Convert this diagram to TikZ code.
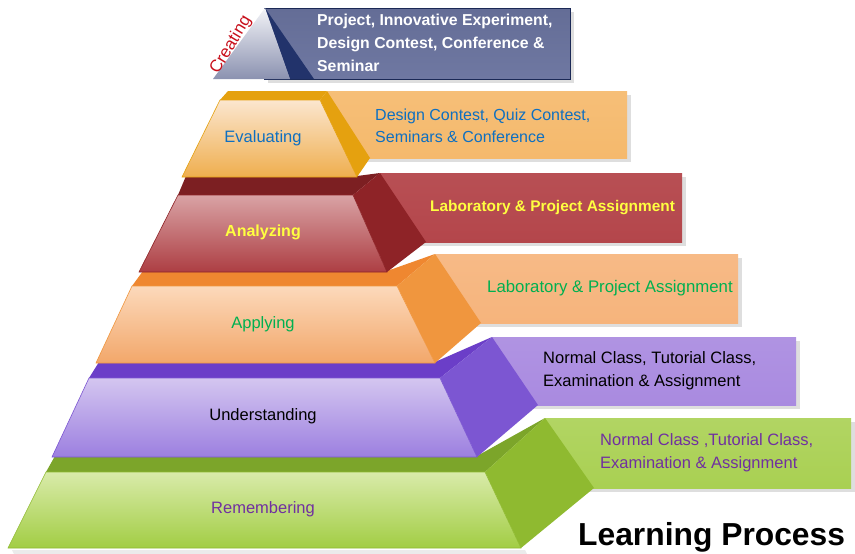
\documentclass[tikz,border=0pt]{standalone}
\usepackage{fontspec}
\setmainfont{Liberation Sans}
\tikzset{
  shadowbox/.style={fill=black, opacity=0.13},
  boxtxt/.style={anchor=west, align=left, inner sep=0pt},
  lvltxt/.style={inner sep=0pt, font=\fontsize{16.5}{20}\selectfont},
}
\definecolor{crbox}{HTML}{646D96}
\definecolor{crboxb}{HTML}{6F78A2}
\definecolor{crside}{HTML}{22336B}
\definecolor{evbox}{HTML}{F5B96C}
\definecolor{evside}{HTML}{E5A10F}
\definecolor{evtop}{HTML}{FBE6CF}
\definecolor{evbot}{HTML}{EFAE4E}
\definecolor{evtxt}{HTML}{0E6FC1}
\definecolor{anbox}{HTML}{B4464B}
\definecolor{anstrip}{HTML}{7C1F22}
\definecolor{anside}{HTML}{8E2327}
\definecolor{antop}{HTML}{D9A3A5}
\definecolor{anbot}{HTML}{AD3E43}
\definecolor{antxt}{HTML}{FFFF40}
\definecolor{apbox}{HTML}{F6B47C}
\definecolor{apstrip}{HTML}{EF8730}
\definecolor{apside}{HTML}{F0963E}
\definecolor{aptop}{HTML}{FCD9BB}
\definecolor{apbot}{HTML}{F2A76A}
\definecolor{aptxt}{HTML}{00B050}
\definecolor{unbox}{HTML}{A98AE0}
\definecolor{unstrip}{HTML}{6B3EC8}
\definecolor{unside}{HTML}{7C56D2}
\definecolor{untop}{HTML}{D4C6F0}
\definecolor{unbot}{HTML}{9C7FE0}
\definecolor{rebox}{HTML}{A9D052}
\definecolor{restrip}{HTML}{7CA52A}
\definecolor{reside}{HTML}{8FBA30}
\definecolor{retop}{HTML}{D9EBAA}
\definecolor{rebot}{HTML}{A2CD44}
\definecolor{retxt}{HTML}{7030A0}
\begin{document}
\begin{tikzpicture}[x=1pt,y=-1pt]
\useasboundingbox[fill=white] (0,0) rectangle (855,554);

% ---------- Remembering ----------
\fill[shadowbox] (549,422) rectangle (855,492);
\fill[black, opacity=0.08] (12,550) -- (525,550) -- (527,554) -- (14,554) -- cycle;
\shade[top color=rebox!90!white, bottom color=rebox] (545,418) rectangle (851,488);
\fill[restrip] (46,472) -- (55,456) -- (477,456) -- (545,418) -- (485,472) -- cycle;
\fill[reside] (485,472) -- (545,418) -- (594,488) -- (521,548) -- cycle;
\shade[top color=retop, bottom color=rebot, draw=reside, line width=0.6pt] (46,472) -- (485,472) -- (521,548) -- (8,548) -- cycle;
\node[boxtxt, text=retxt, font=\fontsize{16.5}{23}\selectfont] (retext) at (600,453) {Normal Class ,Tutorial Class,\\Examination \& Assignment};
\node[lvltxt, text=retxt] (relbl) at (263,509) {Remembering};

% ---------- Understanding ----------
\fill[shadowbox] (496,341) rectangle (800,409);
\shade[top color=unbox!92!white, bottom color=unbox] (492,337) rectangle (796,405);
\fill[unstrip] (89,378) -- (99,362) -- (435,362) -- (492,337) -- (440,378) -- cycle;
\fill[unside] (440,378) -- (492,337) -- (538,405) -- (477,457) -- cycle;
\shade[top color=untop, bottom color=unbot, draw=unside, line width=0.6pt] (89,378) -- (440,378) -- (477,457) -- (52,457) -- cycle;
\node[boxtxt, text=black, font=\fontsize{16.5}{23}\selectfont] (untext) at (543,371) {Normal Class, Tutorial Class,\\Examination \& Assignment};
\node[lvltxt, text=black] (unlbl) at (263,416) {Understanding};

% ---------- Applying ----------
\fill[shadowbox] (439,258) rectangle (742,327);
\shade[top color=apbox!92!white, bottom color=apbox] (435,254) rectangle (738,323);
\fill[apstrip] (132,286) -- (143,271) -- (387,271) -- (435,254) -- (397,286) -- cycle;
\fill[apside] (397,286) -- (435,254) -- (481,323) -- (435,363) -- cycle;
\shade[top color=aptop, bottom color=apbot, draw=apside, line width=0.6pt] (132,286) -- (397,286) -- (435,363) -- (96,363) -- cycle;
\node[boxtxt, text=aptxt, font=\fontsize{16.8}{22}\selectfont] (aptext) at (487,288) {Laboratory \& Project Assignment};
\node[lvltxt, text=aptxt] (aplbl) at (263,324) {Applying};

% ---------- Analyzing ----------
\fill[shadowbox] (384,177) rectangle (686,246);
\shade[top color=anbox!95!white, bottom color=anbox] (380,173) rectangle (682,242);
\fill[anstrip] (178,195) -- (186,176) -- (357,176) -- (380,173) -- (353,195) -- cycle;
\fill[anside] (353,195) -- (380,173) -- (426,242) -- (387,272) -- cycle;
\shade[top color=antop, bottom color=anbot, draw=anside, line width=0.6pt] (178,195) -- (353,195) -- (387,272) -- (139,272) -- cycle;
\node[boxtxt, text=antxt, font=\bfseries\fontsize{15.4}{22}\selectfont] (antext) at (430,208) {Laboratory \& Project Assignment};
\node[lvltxt, text=antxt, font=\bfseries\fontsize{16}{20}\selectfont] (anlbl) at (263,232) {Analyzing};

% ---------- Evaluating ----------
\fill[shadowbox] (331,95) rectangle (631,162);
\shade[top color=evbox!92!white, bottom color=evbox] (327,91) rectangle (627,158);
\fill[evside] (220,100) -- (228,91) -- (327,91) -- (320,100) -- cycle;
\fill[evside] (320,100) -- (327,91) -- (370,158) -- (357,177) -- cycle;
\shade[top color=evtop, bottom color=evbot, draw=evside, line width=0.6pt] (220,100) -- (320,100) -- (357,177) -- (182,177) -- cycle;
\node[boxtxt, text=evtxt, font=\fontsize{16}{22}\selectfont] (evtext) at (375,126) {Design Contest, Quiz Contest,\\Seminars \& Conference};
\node[lvltxt, text=evtxt] (evlbl) at (263,138) {Evaluating};

% ---------- Creating ----------
\fill[shadowbox] (268,12) rectangle (574,83);
\shade[top color=crbox, bottom color=crboxb, draw=crside!80!black, line width=0.6pt] (264,8) rectangle (570,79);
\fill[crside] (265,8) -- (314,79) -- (290,79) -- cycle;
\shade[top color=white!92!crbox, bottom color=crbox!75!white] (265,8) -- (290,79) -- (213,79) -- cycle;
\node[boxtxt, text=white, font=\bfseries\fontsize{15.8}{22.8}\selectfont] (crtext) at (317,43) {Project, Innovative Experiment,\\Design Contest, Conference \&\\Seminar};
\node[inner sep=0pt, rotate=59, text={rgb,255:red,200;green,16;blue,28}, font=\fontsize{17}{20}\selectfont] (crlbl) at (231,45) {Creating};

% ---------- Title ----------
\node[anchor=base west, inner sep=0pt, font=\bfseries\fontsize{31.8}{36}\selectfont] (title) at (578,545) {Learning Process};
\end{tikzpicture}
\end{document}
